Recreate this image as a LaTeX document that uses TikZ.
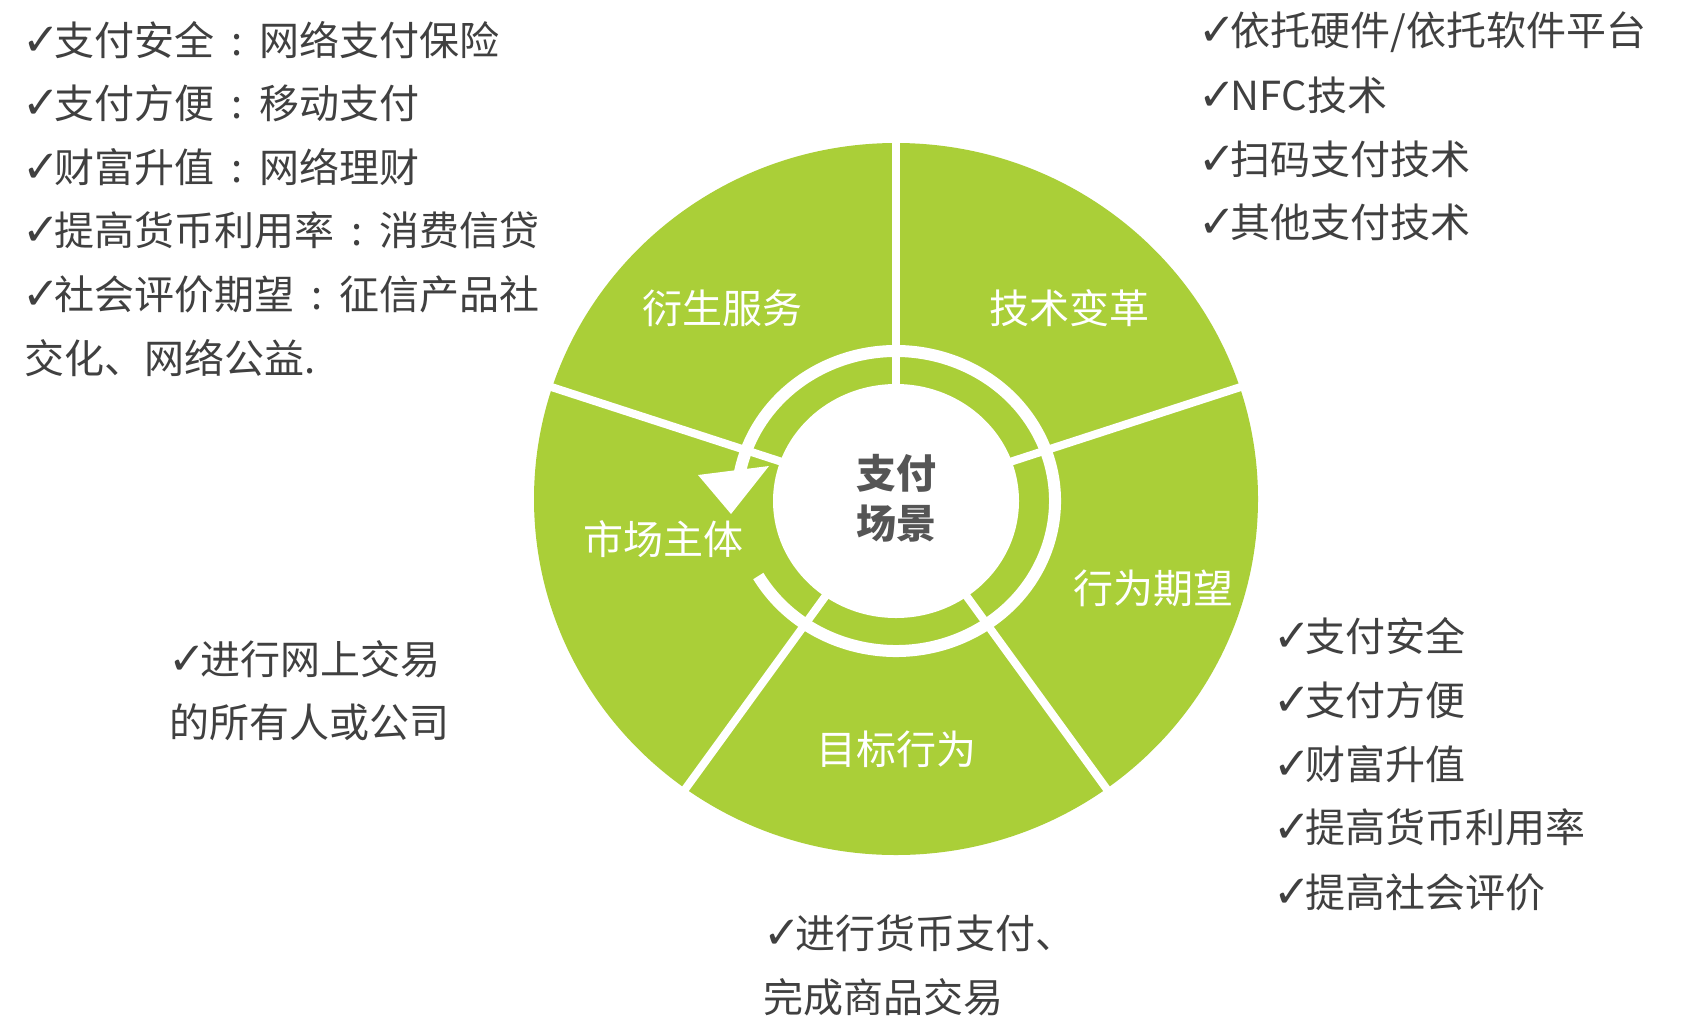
\documentclass[tikz,border=0pt]{standalone}
\usepackage{fontspec}
\usetikzlibrary{calc}
\setmainfont{Noto Sans CJK SC}
\newfontfamily\symfont{DejaVu Sans}
\definecolor{wheelgreen}{RGB}{170,207,56}
\definecolor{txtgray}{RGB}{64,64,64}
\definecolor{centergray}{RGB}{85,85,85}
\newcommand\ck{{\symfont\bfseries\fontsize{45}{45}\selectfont\kern-2pt ✓\kern-5pt}}
\newcommand\cc{\hspace{0.42em}:\hspace{0.42em}}
\tikzset{
  txt/.style={anchor=west, text=txtgray, font=\fontsize{40}{48}\selectfont, inner sep=0pt},
  lbl/.style={text=white, font=\fontsize{40}{48}\selectfont, inner sep=0pt},
  gap/.style={white, line width=8}
}
\begin{document}
\begin{tikzpicture}[x=1pt,y=1pt]
\useasboundingbox (0,0) rectangle (1685,-1028);
\fill[white] (0,0) rectangle (1685,-1028);
% wheel
\begin{scope}[shift={(896,-499)}]
  \fill[wheelgreen] (0,0) ellipse [x radius=362, y radius=356];
  \foreach \a in {90,18,-54,-126,162}
    \draw[gap] (0,0) -- (\a:380);
  \fill[white] (0,-2) ellipse [x radius=123, y radius=117];
  \draw[white, line width=12] ($(0,-2)+(-150:159 and 150)$) arc[start angle=-150, end angle=169, x radius=159, y radius=150];
  \fill[white] (-198,24) -- (-127,33) -- (-165,-15) -- cycle;
\end{scope}
% sector labels
\node[lbl] (s1) at (722,-308) {衍生服务};
\node[lbl] (s2) at (1069,-308) {技术变革};
\node[lbl] (s3) at (1153,-588) {行为期望};
\node[lbl] (s4) at (896,-749) {目标行为};
\node[lbl] (s5) at (663,-539) {市场主体};
\node[text=centergray, font=\fontsize{40}{50}\selectfont\bfseries, align=center, inner sep=0pt] (c) at (896,-498) {支付\\场景};
% left top block
\node[txt] (l1) at (24,-40) {\ck 支付安全\cc 网络支付保险};
\node[txt] (l2) at (24,-103) {\ck 支付方便\cc 移动支付};
\node[txt] (l3) at (24,-167) {\ck 财富升值\cc 网络理财};
\node[txt] (l4) at (24,-230) {\ck 提高货币利用率\cc 消费信贷};
\node[txt] (l5) at (24,-294) {\ck 社会评价期望\cc 征信产品社};
\node[txt] (l6) at (24,-358) {交化、网络公益.};
% right top block
\node[txt] (r1) at (1200,-32) {\ck 依托硬件/依托软件平台};
\node[txt] (r2) at (1200,-95) {\ck NFC技术};
\node[txt] (r3) at (1200,-159) {\ck 扫码支付技术};
\node[txt] (r4) at (1200,-222) {\ck 其他支付技术};
% right bottom block
\node[txt] (b1) at (1275,-636) {\ck 支付安全};
\node[txt] (b2) at (1275,-700) {\ck 支付方便};
\node[txt] (b3) at (1275,-764) {\ck 财富升值};
\node[txt] (b4) at (1275,-827) {\ck 提高货币利用率};
\node[txt] (b5) at (1275,-892) {\ck 提高社会评价};
% bottom block
\node[txt] (m1) at (765,-933) {\ck 进行货币支付、};
\node[txt] (m2) at (763,-997) {完成商品交易};
% left middle block
\node[txt] (p1) at (170,-659) {\ck 进行网上交易};
\node[txt] (p2) at (169,-722) {的所有人或公司};
\end{tikzpicture}
\end{document}
